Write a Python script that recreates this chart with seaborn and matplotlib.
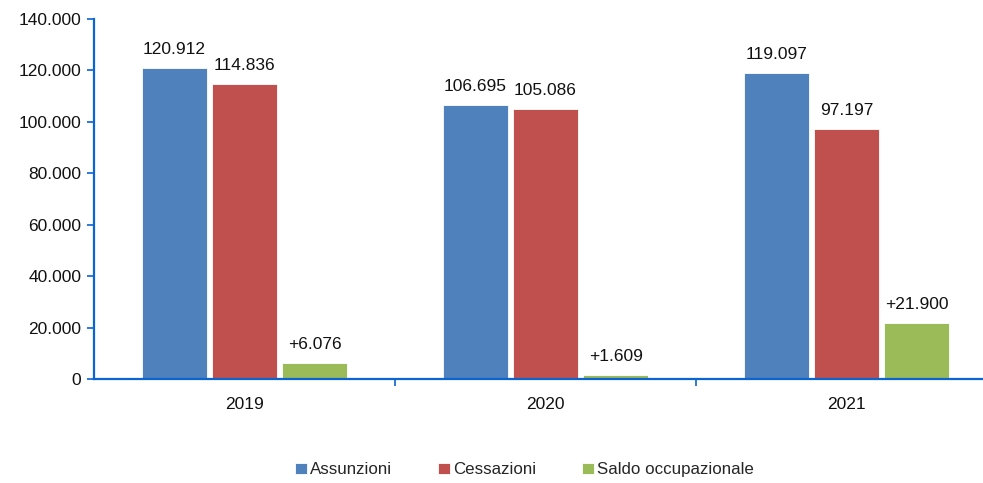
import matplotlib
matplotlib.use("Agg")
import matplotlib.pyplot as plt
import seaborn as sns
import pandas as pd
from matplotlib.ticker import FuncFormatter, FixedLocator

years = ["2019", "2020", "2021"]
series = ["Assunzioni", "Cessazioni", "Saldo occupazionale"]
assunzioni = [120912, 106695, 119097]
cessazioni = [114836, 105086, 97197]
saldo = [6076, 1609, 21900]
colors = ["#4F81BD", "#C0504D", "#9BBB59"]
axis_blue = "#0A64D2"

df = pd.DataFrame({
    "anno": years * 3,
    "serie": [series[0]] * 3 + [series[1]] * 3 + [series[2]] * 3,
    "valore": assunzioni + cessazioni + saldo,
})

sns.set_theme(style="white")
plt.rcParams["font.family"] = ["Liberation Sans", "DejaVu Sans"]

def it_num(v):
    return f"{int(round(v)):,}".replace(",", ".")

fig = plt.figure(figsize=(9.83, 4.83), dpi=100)
ax = fig.add_axes([0.0956, 0.2153, 1.0142 - 0.0956, 0.9607 - 0.2153])

sns.barplot(data=df, x="anno", y="valore", hue="serie", order=years,
            hue_order=series, palette=colors, width=0.7, gap=0.08,
            saturation=1, edgecolor="white", linewidth=0.6, ax=ax)

for cont, name in zip(ax.containers, series):
    labels = []
    for bar in cont:
        v = bar.get_height()
        s = it_num(v)
        if name == "Saldo occupazionale":
            s = "+" + s
        labels.append(s)
    ax.bar_label(cont, labels=labels, padding=8, fontsize=12.5, color="#111111")

ax.set_xlim(-0.5, 2.5)
ax.set_ylim(0, 140000)
ax.yaxis.set_major_locator(FixedLocator(range(0, 140001, 20000)))
ax.yaxis.set_major_formatter(FuncFormatter(lambda v, p: it_num(v)))
ax.set_xlabel("")
ax.set_ylabel("")

for side in ["top", "right"]:
    ax.spines[side].set_visible(False)
for side in ["left", "bottom"]:
    ax.spines[side].set_color(axis_blue)
    ax.spines[side].set_linewidth(1.6)

ax.tick_params(axis="y", which="major", direction="out", length=5, width=1.2,
               color=axis_blue, labelsize=12.5, labelcolor="#111111", pad=4, left=True)
ax.tick_params(axis="x", which="major", length=0, labelsize=12.5,
               labelcolor="#111111", pad=13)
ax.xaxis.set_minor_locator(FixedLocator([0.5, 1.5]))
ax.tick_params(axis="x", which="minor", direction="out", length=5, width=1.2,
               color=axis_blue, bottom=True)

handles, lbls = ax.get_legend_handles_labels()
ax.legend(handles, lbls, loc="center", bbox_to_anchor=(0.5335, 0.027),
          bbox_transform=fig.transFigure, ncol=3, frameon=False,
          fontsize=12.2, handlelength=0.7, handleheight=0.7,
          handletextpad=0.2, columnspacing=2.7)

fig.savefig("out.png", dpi=100)
